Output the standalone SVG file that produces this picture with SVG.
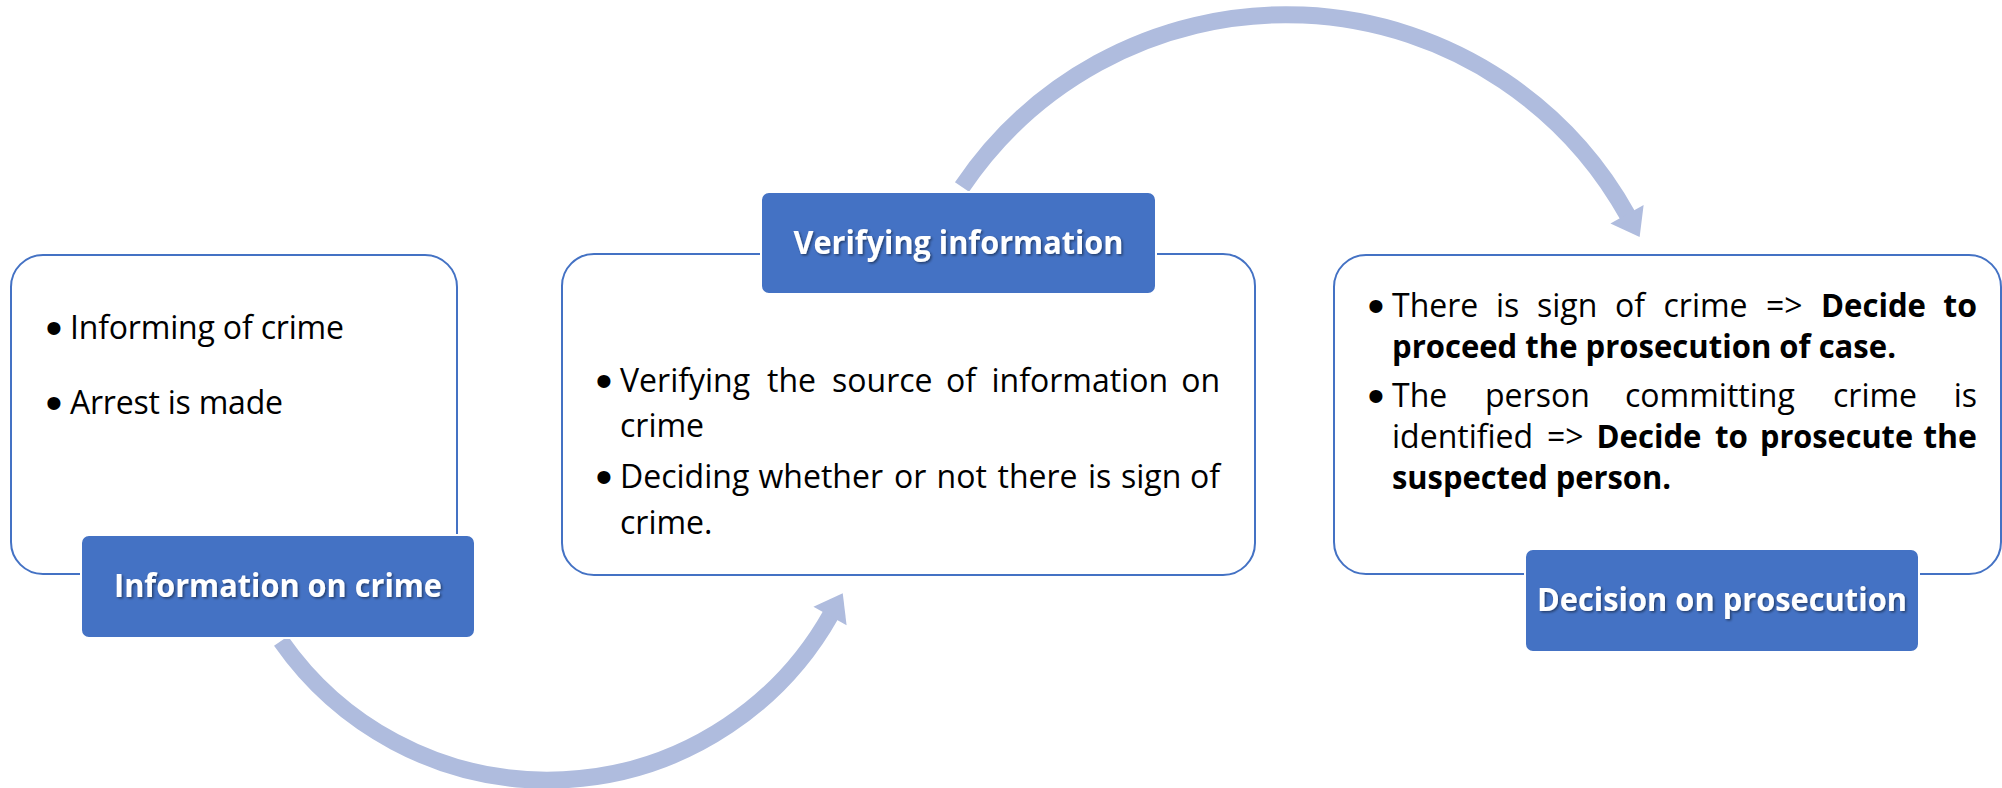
<svg xmlns="http://www.w3.org/2000/svg" width="2002" height="788" viewBox="0 0 2002 788">
  <defs>
    <marker id="head" markerUnits="userSpaceOnUse" markerWidth="40" markerHeight="44" viewBox="0 -22 30 44" refX="2" refY="0" orient="auto">
      <path d="M0,-19 L26,0 L0,19 Z" fill="#AFBCDE"/>
    </marker>
    <filter id="shade" x="-10%" y="-30%" width="120%" height="160%">
      <feDropShadow dx="1.5" dy="1.5" stdDeviation="1" flood-color="#000" flood-opacity="0.45"/>
    </filter>
  </defs>
  <style>
    .panel { fill: #FFFFFF; stroke: #4472C4; stroke-width: 2; }
    .tab { fill: #4472C4; stroke: #FFFFFF; stroke-width: 2; }
    .tab-text { font-family: "Open Sans", "Liberation Sans", sans-serif; font-weight: 700; font-size: 33px; fill: #FFFFFF; text-anchor: middle; }
    .body { font-family: "Open Sans", "Liberation Sans", sans-serif; font-size: 32px; fill: #000000; }
    .b { font-weight: 700; }
    .end { text-anchor: end; }
    .bullet { font-family: "Liberation Sans", Arial, sans-serif; font-size: 48px; fill: #000000; }
    .flow { fill: none; stroke: #AFBCDE; stroke-width: 17; stroke-linecap: butt; marker-end: url(#head); }
  </style>

  <!-- curved flow arrows -->
  <g id="connectors">
    <path class="flow" d="M281,641 A325 325 0 0 0 831,614.3"/>
    <path class="flow" d="M962,187 A391 391 0 0 1 1628,216"/>
  </g>

  <!-- stage 1 -->
  <g id="node-information">
    <rect class="panel" x="11" y="255" width="446" height="319" rx="32"/>
    <text class="bullet" x="45.5" y="344">•</text>
    <text class="body" x="70" y="339" textLength="274" lengthAdjust="spacing">Informing of crime</text>
    <text class="bullet" x="45.5" y="419">•</text>
    <text class="body" x="70" y="414" textLength="213" lengthAdjust="spacing">Arrest is made</text>
    <rect class="tab" x="81" y="535" width="394" height="103" rx="8"/>
    <text class="tab-text" x="278" y="597" textLength="328" lengthAdjust="spacingAndGlyphs" filter="url(#shade)">Information on crime</text>
  </g>

  <!-- stage 2 -->
  <g id="node-verifying">
    <rect class="panel" x="562" y="254" width="693" height="321" rx="32"/>
    <text class="bullet" x="595.5" y="397">•</text>
    <text class="body" y="392"><tspan x="620">Verifying</tspan><tspan x="767">the</tspan><tspan x="832">source</tspan><tspan x="946">of</tspan><tspan x="991.5">information</tspan><tspan class="end" x="1220">on</tspan></text>
    <text class="body" x="620" y="437">crime</text>
    <text class="bullet" x="595.5" y="493">•</text>
    <text class="body" y="488"><tspan x="620">Deciding</tspan><tspan x="758.5">whether</tspan><tspan x="894">or</tspan><tspan x="936.5">not</tspan><tspan x="997.5">there</tspan><tspan x="1088">is</tspan><tspan x="1121">sign</tspan><tspan class="end" x="1220">of</tspan></text>
    <text class="body" x="620" y="534">crime.</text>
    <rect class="tab" x="761" y="192" width="395" height="102" rx="8"/>
    <text class="tab-text" x="958.5" y="254" textLength="330" lengthAdjust="spacingAndGlyphs" filter="url(#shade)">Verifying information</text>
  </g>

  <!-- stage 3 -->
  <g id="node-decision">
    <rect class="panel" x="1334" y="255" width="667" height="319" rx="32"/>
    <text class="bullet" x="1367.5" y="322">•</text>
    <text class="body" y="317"><tspan x="1392">There</tspan><tspan x="1496">is</tspan><tspan x="1537">sign</tspan><tspan x="1615">of</tspan><tspan x="1663.5">crime</tspan><tspan x="1766">=&gt;</tspan><tspan class="b" x="1821" textLength="105" lengthAdjust="spacingAndGlyphs">Decide</tspan><tspan class="b end" x="1977">to</tspan></text>
    <text class="body b" x="1392" y="358" textLength="504" lengthAdjust="spacingAndGlyphs">proceed the prosecution of case.</text>
    <text class="bullet" x="1367.5" y="412">•</text>
    <text class="body" y="407"><tspan x="1392">The</tspan><tspan x="1485">person</tspan><tspan x="1625">committing</tspan><tspan x="1833">crime</tspan><tspan class="end" x="1977">is</tspan></text>
    <text class="body" y="448"><tspan x="1392">identified</tspan><tspan x="1547">=&gt;</tspan><tspan class="b" x="1596.5" textLength="105" lengthAdjust="spacingAndGlyphs">Decide</tspan><tspan class="b" x="1715" textLength="33" lengthAdjust="spacingAndGlyphs">to</tspan><tspan class="b" x="1760" textLength="153" lengthAdjust="spacingAndGlyphs">prosecute</tspan><tspan class="b end" x="1977">the</tspan></text>
    <text class="body b" x="1392" y="489" textLength="279" lengthAdjust="spacingAndGlyphs">suspected person.</text>
    <rect class="tab" x="1525" y="549" width="394" height="103" rx="8"/>
    <text class="tab-text" x="1722" y="611" textLength="370" lengthAdjust="spacingAndGlyphs" filter="url(#shade)">Decision on prosecution</text>
  </g>
</svg>
